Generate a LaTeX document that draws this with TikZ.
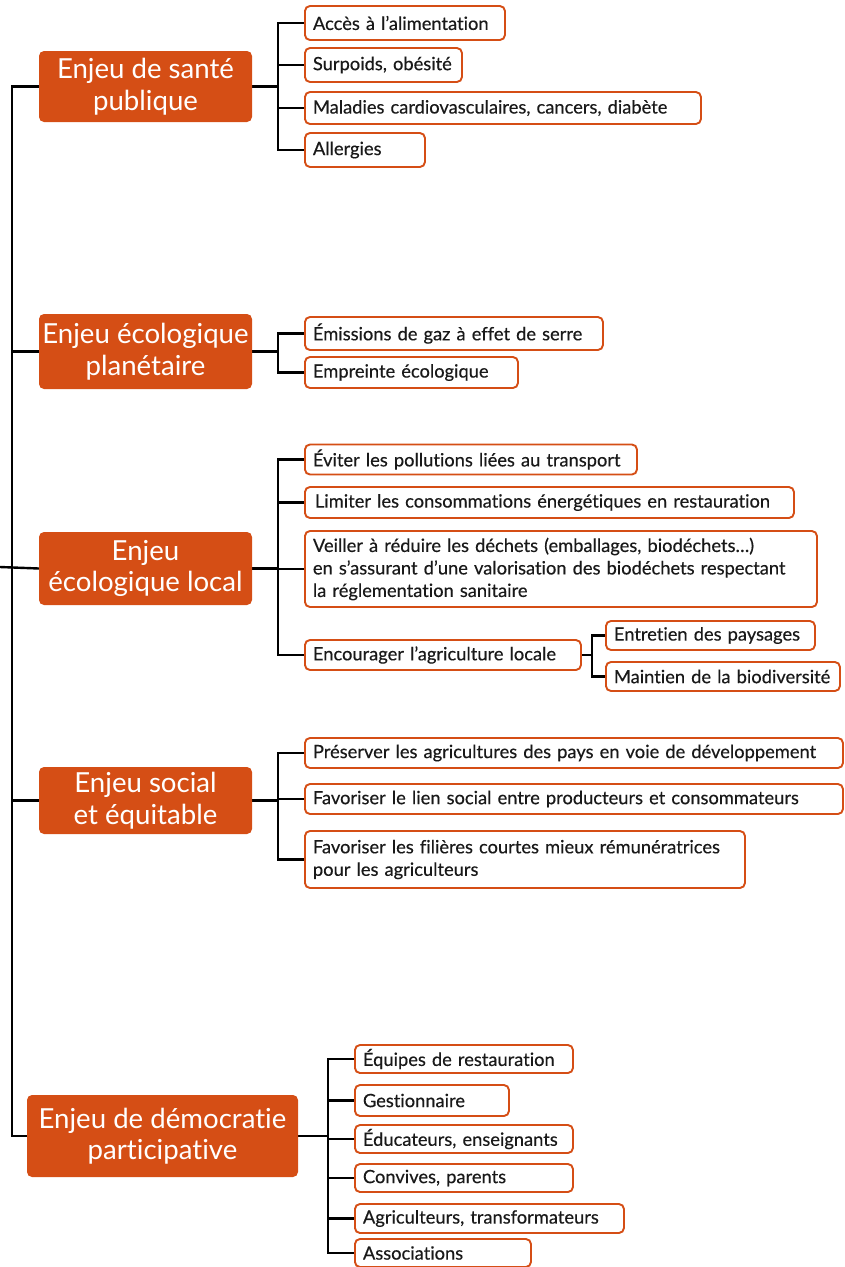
\documentclass[tikz,border=0pt]{standalone}
\usepackage{fontspec}
\setmainfont{Lato}[Ligatures={TeX,NoCommon}]
\newfontfamily\leaffam{Lato}[FakeBold=0.35,Ligatures={TeX,NoCommon}]
\usetikzlibrary{backgrounds}
\definecolor{orangeC}{RGB}{213,78,21}
\definecolor{txt}{RGB}{25,25,25}
\newcommand\mainfont{\fontsize{27.6}{31.5}\selectfont}
\newcommand\leaffont{\leaffam\fontsize{18.3}{22.5}\selectfont}
\tikzset{
  mainbox/.style={fill=orangeC, draw=none, rounded corners=5pt, text=white, font=\mainfont, align=center, inner sep=0pt},
  leafbox/.style={draw=orangeC, line width=1.9pt, rounded corners=5pt, fill=white, anchor=west, align=left, text=txt, font=\leaffont, inner xsep=8pt, inner ysep=0pt},
  link/.style={draw=black, line width=2.4pt, line join=miter}
}
\begin{document}
\begin{tikzpicture}[x=1pt,y=-1pt]
\useasboundingbox (0,0) rectangle (844,1267);
% main boxes
\node[mainbox, minimum width=213, minimum height=71] (m1) at (145.5,86.5) {Enjeu de santé\\publique};
\node[mainbox, minimum width=213, minimum height=75] (m2) at (145.5,351.5) {Enjeu écologique\\planétaire};
\node[mainbox, minimum width=213, minimum height=73] (m3) at (145.5,568.5) {Enjeu\\écologique local};
\node[mainbox, minimum width=213, minimum height=67] (m4) at (145.5,800.5) {Enjeu social\\et équitable};
\node[mainbox, minimum width=271, minimum height=82] (m5) at (162.5,1136) {Enjeu de démocratie\\participative};
% leaves
\node[leafbox, minimum height=34, text width=184] (c11) at (304,23) {\mbox{Accès à l’alimentation}};
\node[leafbox, minimum height=34, text width=141] (c12) at (304,65) {\mbox{Surpoids, obésité}};
\node[leafbox, minimum height=32, text width=380] (c13) at (304,108) {\mbox{Maladies cardiovasculaires, cancers, diabète}};
\node[leafbox, minimum height=34, text width=104] (c14) at (304,150) {Allergies};
\node[leafbox, minimum height=33, text width=282] (c21) at (304,333.5) {\mbox{Émissions de gaz à effet de serre}};
\node[leafbox, minimum height=31, text width=197] (c22) at (304,372.5) {\mbox{Empreinte écologique}};
\node[leafbox, minimum height=30, text width=316] (c31) at (304,459.5) {\mbox{Éviter les pollutions liées au transport}};
\node[leafbox, minimum height=31, text width=473] (c32) at (304,502.5) {\mbox{\hspace*{2pt}Limiter les consommations énergétiques en restauration}};
\node[leafbox, minimum height=76, text width=496] (c33) at (304,569) {\mbox{Veiller à réduire les déchets (emballages, biodéchets…)}\\\mbox{en s’assurant d’une valorisation des biodéchets respectant}\\\mbox{la réglementation sanitaire}};
\node[leafbox, minimum height=30, text width=260] (c34) at (304,655) {\mbox{Encourager l’agriculture locale}};
\node[leafbox, minimum height=29, text width=193] (c35) at (605,635.5) {\mbox{Entretien des paysages}};
\node[leafbox, minimum height=29, text width=218] (c36) at (605,676.5) {\mbox{Maintien de la biodiversité}};
\node[leafbox, minimum height=30, text width=522] (c41) at (304,753) {\mbox{Préserver les agricultures des pays en voie de développement}};
\node[leafbox, minimum height=30, text width=522] (c42) at (304,799) {\mbox{Favoriser le lien social entre producteurs et consommateurs}};
\node[leafbox, minimum height=57, text width=424] (c43) at (304,859.5) {\mbox{Favoriser les filières courtes mieux rémunératrices}\\\mbox{pour les agriculteurs}};
\node[leafbox, minimum height=28, text width=202] (c51) at (354,1059) {\mbox{Équipes de restauration}};
\node[leafbox, minimum height=31, text width=138] (c52) at (354,1100.5) {Gestionnaire};
\node[leafbox, minimum height=28, text width=202] (c53) at (354,1139) {\mbox{Éducateurs, enseignants}};
\node[leafbox, minimum height=28, text width=202] (c54) at (354,1178) {\mbox{Convives, parents}};
\node[leafbox, minimum height=29, text width=253] (c55) at (354,1218.5) {\mbox{Agriculteurs, transformateurs}};
\node[leafbox, minimum height=28, text width=160] (c56) at (354,1253) {Associations};
% connectors
\begin{scope}[on background layer]
\coordinate (root) at (0,567);
\coordinate (sp) at (12,567);
\draw[link] (root) -- (m3.west);
\foreach \m in {m1,m2,m4,m5} \draw[link] (\m.west) -| (sp);
\coordinate (b1) at (278,86.5);
\draw[link] (m1.east) -- (b1);
\foreach \c in {c11,c12,c13,c14} \draw[link] (\c.west) -| (b1);
\coordinate (b2) at (278,351.5);
\draw[link] (m2.east) -- (b2);
\foreach \c in {c21,c22} \draw[link] (\c.west) -| (b2);
\coordinate (b3) at (278,568.5);
\draw[link] (m3.east) -- (b3);
\foreach \c in {c31,c32,c33,c34} \draw[link] (\c.west) -| (b3);
\coordinate (b3s) at (592,655);
\draw[link] (c34.east) -- (b3s);
\foreach \c in {c35,c36} \draw[link] (\c.west) -| (b3s);
\coordinate (b4) at (278,800.5);
\draw[link] (m4.east) -- (b4);
\foreach \c in {c41,c42,c43} \draw[link] (\c.west) -| (b4);
\coordinate (b5) at (328,1136);
\draw[link] (m5.east) -- (b5);
\foreach \c in {c51,c52,c53,c54,c55,c56} \draw[link] (\c.west) -| (b5);
\end{scope}
\end{tikzpicture}
\end{document}
